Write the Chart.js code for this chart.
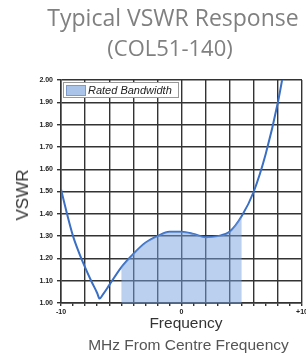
<!DOCTYPE html>
<html>
<head>
<meta charset="utf-8">
<script src="https://cdn.jsdelivr.net/npm/chart.js@4"></script>
<style>
/* page = 306 x 356 */
body { margin:0; background:#fff; }
#wrap { position:relative; width:306px; height:356px; overflow:hidden; }
#wrap canvas { position:absolute; left:0; top:0; }
.txt { position:absolute; white-space:nowrap; }
#t1 { left:0; width:346px; top:1px; text-align:center; font:23px "Open Sans"; color:#808080; }
#t2 { left:0; width:340px; top:32px; text-align:center; font:22px "Open Sans"; color:#808080; }
#ytitle { left:23px; top:195px; transform:translate(-50%,-50%) rotate(-90deg); font:17px "Liberation Sans", Arial; color:#333; }
#xt1 { left:0; width:372px; top:314px; text-align:center; font:15.5px "Liberation Sans", Arial; color:#333; }
#xt2 { left:0; width:377px; top:336px; text-align:center; font:15.5px "Liberation Sans", Arial; color:#555; }
#legend { position:absolute; left:63px; top:82px; width:114px; height:14px; border:1px solid #999; background:#fff; }
#legend .sw { position:absolute; left:2px; top:2px; width:18px; height:9px; background:#a9c4e8; border:1px solid #7d9acb; }
#legend .lb { position:absolute; left:24px; top:0px; font:italic 11px "Liberation Sans", Arial; color:#222; line-height:14px; }
</style>
</head>
<body>
<div id="wrap">
<canvas id="c" width="306" height="356"></canvas>
<div class="txt" id="t1">Typical VSWR Response</div>
<div class="txt" id="t2">(COL51-140)</div>
<div class="txt" id="ytitle">VSWR</div>
<div class="txt" id="xt1">Frequency</div>
<div class="txt" id="xt2">MHz From Centre Frequency</div>
<div id="legend"><div class="sw"></div><div class="lb">Rated Bandwidth</div></div>
</div>
<script>
// frequency offset (MHz) and VSWR
const freq = [-10,-9.5,-9,-8.5,-8,-7.5,-7,-6.8,-6.5,-6,-5,-4,-3,-2,-1,0,1,2,3,4,5,6,7,8,9];
const vswr = [1.51,1.40,1.30,1.225,1.16,1.10,1.045,1.02,1.04,1.08,1.16,1.22,1.27,1.30,1.32,1.32,1.31,1.295,1.30,1.32,1.39,1.50,1.67,1.90,2.20];

// rated bandwidth edges
const bandLow = -5;
const bandHigh = 5;

const xLabels = {"-10":"-10", "0":"0", "10":"+10"};

const curve = freq.map((f,i) => ({x:f, y:vswr[i]}));
const band = curve.filter(p => p.x >= bandLow && p.x <= bandHigh);

new Chart(document.getElementById("c"), {
  type: "line",
  data: {
    datasets: [
      {
        label: "Rated Bandwidth",
        data: band,
        borderWidth: 0,
        backgroundColor: "rgba(120,160,222,0.5)",
        fill: "start",
        pointRadius: 0,
        cubicInterpolationMode: "monotone"
      },
      {
        label: "VSWR",
        data: curve,
        borderColor: "#3a6fc4",
        borderWidth: 2,
        fill: false,
        pointRadius: 0,
        cubicInterpolationMode: "monotone"
      }
    ]
  },
  options: {
    responsive: false,
    animation: false,
    layout: { padding: { left: 0, right: 4, top: 80, bottom: 0 } },
    plugins: { legend: { display: false }, tooltip: { enabled: false } },
    scales: {
      x: {
        type: "linear",
        min: -10, max: 10,
        ticks: {
          stepSize: 1,
          autoSkip: false,
          maxRotation: 0,
          padding: 2,
          color: "#222",
          font: { family: "Liberation Sans", size: 7, weight: "bold" },
          callback: v => xLabels[v] || ""
        },
        grid: {
          color: ctx => (ctx.tick && ctx.tick.value % 2 === 0) ? "#333" : "rgba(0,0,0,0)",
          tickColor: "#333",
          lineWidth: 1.4,
          tickLength: 3
        },
        border: { color: "#333", width: 1.5 },
        afterFit: s => { s.height = 53; s.paddingLeft = 0; s.paddingRight = 0; }
      },
      y: {
        min: 1, max: 2,
        ticks: {
          stepSize: 0.1,
          padding: 4,
          color: "#222",
          font: { family: "Liberation Sans", size: 7, weight: "bold" },
          callback: v => v.toFixed(2)
        },
        grid: { color: "#333", lineWidth: 1.4, tickColor: "#333", tickLength: 4 },
        border: { color: "#333", width: 1.5 },
        afterFit: s => { s.width = 61; s.paddingTop = 0; s.paddingBottom = 0; }
      }
    }
  }
});
</script>
</body>
</html>
